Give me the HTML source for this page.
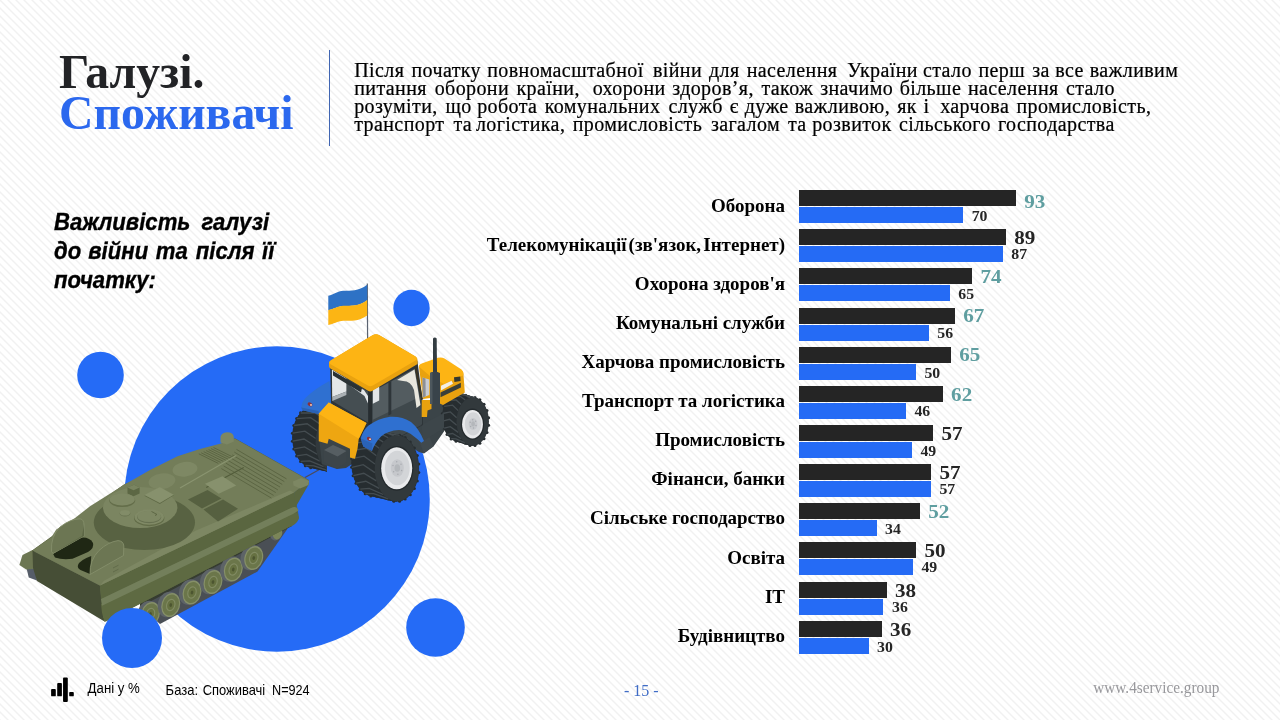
<!DOCTYPE html>
<html lang="uk">
<head>
<meta charset="utf-8">
<title>Галузі. Споживачі</title>
<style>
*{margin:0;padding:0;box-sizing:border-box}
html,body{width:1280px;height:720px;overflow:hidden;background:#fff}
body{position:relative;font-family:"Liberation Serif",serif;color:#000}
#bg,#chart,#art,#txt{position:absolute;left:0;top:0;width:1280px;height:720px}
#bg{background:#fff linear-gradient(45deg,#f1f1f1 0,#f1f1f1 3.5%,#fff 9.5%,#fff 40.5%,#f1f1f1 46.5%,#f1f1f1 53.5%,#fff 59.5%,#fff 90.5%,#f1f1f1 96.5%,#f1f1f1 100%) 0 0/8px 8px repeat}
.abs{position:absolute;white-space:nowrap}
#t1{left:59px;top:44.5px;font-size:47.7px;font-weight:bold;line-height:54px;color:#222326}
#t2{left:59px;top:85.5px;font-size:47.7px;font-weight:bold;line-height:54px;color:#2b68ee}
#vline{position:absolute;left:329px;top:50px;width:1px;height:96px;background:#4065b2}
</style>
</head>
<body>
<div id="bg"></div>
<!--ART-->
<svg id="art" width="1280" height="720" viewBox="0 0 1280 720">
<g fill="#256bf6"><circle cx="277" cy="499" r="152.75"/><circle cx="100.5" cy="375" r="23.3"/><circle cx="411.5" cy="308" r="18.2"/><circle cx="435.5" cy="627.5" r="29.3"/></g>
<g id="tank"><path d="M140 606 L160 624 L257.5 571.5 L287 529.5 L292 512 L150 582 Z" fill="#4a4f55"/>
<path d="M140 607 L292 526 L292 512 L140 590 Z" fill="#363c31"/>
<g transform="translate(150.5,614) rotate(17)"><ellipse cx="-2.6" cy="0.3" rx="10.4" ry="13" fill="#5d6367"/><ellipse rx="9.2" ry="12.2" fill="#858f68"/><ellipse rx="8" ry="10.8" fill="#6b764a"/><ellipse rx="4.6" ry="6.4" fill="#818b63"/><ellipse rx="3.5" ry="5.1" fill="#667142"/><ellipse rx="1.3" ry="1.9" fill="#4c5530"/></g>
<g transform="translate(170.75,605) rotate(17)"><ellipse cx="-2.6" cy="0.3" rx="10.4" ry="13" fill="#5d6367"/><ellipse rx="9.2" ry="12.2" fill="#858f68"/><ellipse rx="8" ry="10.8" fill="#6b764a"/><ellipse rx="4.6" ry="6.4" fill="#818b63"/><ellipse rx="3.5" ry="5.1" fill="#667142"/><ellipse rx="1.3" ry="1.9" fill="#4c5530"/></g>
<g transform="translate(192,592.5) rotate(17)"><ellipse cx="-2.6" cy="0.3" rx="10.4" ry="13" fill="#5d6367"/><ellipse rx="9.2" ry="12.2" fill="#858f68"/><ellipse rx="8" ry="10.8" fill="#6b764a"/><ellipse rx="4.6" ry="6.4" fill="#818b63"/><ellipse rx="3.5" ry="5.1" fill="#667142"/><ellipse rx="1.3" ry="1.9" fill="#4c5530"/></g>
<g transform="translate(213,582) rotate(17)"><ellipse cx="-2.6" cy="0.3" rx="10.4" ry="13" fill="#5d6367"/><ellipse rx="9.2" ry="12.2" fill="#858f68"/><ellipse rx="8" ry="10.8" fill="#6b764a"/><ellipse rx="4.6" ry="6.4" fill="#818b63"/><ellipse rx="3.5" ry="5.1" fill="#667142"/><ellipse rx="1.3" ry="1.9" fill="#4c5530"/></g>
<g transform="translate(233.25,569.5) rotate(17)"><ellipse cx="-2.6" cy="0.3" rx="10.4" ry="13" fill="#5d6367"/><ellipse rx="9.2" ry="12.2" fill="#858f68"/><ellipse rx="8" ry="10.8" fill="#6b764a"/><ellipse rx="4.6" ry="6.4" fill="#818b63"/><ellipse rx="3.5" ry="5.1" fill="#667142"/><ellipse rx="1.3" ry="1.9" fill="#4c5530"/></g>
<g transform="translate(253.75,558) rotate(17)"><ellipse cx="-2.6" cy="0.3" rx="10.4" ry="13" fill="#5d6367"/><ellipse rx="9.2" ry="12.2" fill="#858f68"/><ellipse rx="8" ry="10.8" fill="#6b764a"/><ellipse rx="4.6" ry="6.4" fill="#818b63"/><ellipse rx="3.5" ry="5.1" fill="#667142"/><ellipse rx="1.3" ry="1.9" fill="#4c5530"/></g>
<g transform="translate(277.5,533.5) rotate(17)"><ellipse cx="-1.5" rx="6" ry="7.5" fill="#5d6367"/><ellipse rx="4.6" ry="6" fill="#7b8558"/></g>
<path d="M26.25 567 L36.25 569 L37 580.5 L28.75 577.5 Z" fill="#565d69"/>
<path d="M19.4 565 L22.5 555 L32.5 550 L35 551.5 L35 568.75 L26.25 569.6 Z" fill="#6c7652"/>
<path d="M32.5 550.6 L100 585.6 L294 492.48 L309 480.5 L235 438.75 L123.75 485 Z M100 585.6 L294 492.48 L298 514.5600000000001 L288 527 L110 619 L102 610.64 Z" fill="#5a6640" stroke="#5a6640" stroke-width="0.8"/>
<path d="M32.5 550.6 L100 585.6 L101.5 600 L103 612 L104.5 621.5 L37 581 L33 568 Z" fill="#464e36"/>
<path d="M100 585.6 L294 492.48 L296 505.52000000000004 L101 599.12 Z" fill="#5a6640"/>
<path d="M101 604.12 L293 511.96000000000004 Q300 512.5600000000001 298.8 519.04 Q296 525.48 288 527.5 L116 616 Q108 621 104.5 622 L102 612.64 Z" fill="#5e6a42"/>
<path d="M101 599.12 L291 507.92 Q297 505.04 298.5 510.56000000000006 L293 513.96 L102 605.64 Z" fill="#737f5b"/>
<path d="M294 492.48 L309 480.5 L309 484 L296.5 505.5 L295.5 505.76 Z" fill="#5a6640"/>
<path d="M32.5 550.6 L51.25 537.5 L56.25 529.4 L75 518.1 L90 506.25 L123.75 485 L150 470 L177.5 456.25 L200 449 L220 443.75 L235 438.75 L309 480.5 L294 492.48 L100 585.6 Z" fill="#737d59"/>
<path d="M100 585.6 L294 492.48 L290 490.40000000000003 L196 530.52 L150 555.6 L104 580.6800000000001 Z" fill="#7d8763"/>
<path d="M220.5 437 Q221 433 227 432.3 Q233.5 432.5 233.8 437 L233.8 441.5 L227 444.5 L220.5 442.5 Z" fill="#7d8763"/>
<path d="M293 481.5 L301 478 L309 481 L308.5 485 L300 488.5 L293.5 485.5 Z" fill="#7d8763"/>
<ellipse cx="185" cy="469.25" rx="12.5" ry="7.3" fill="#7e8864" transform="rotate(-8 185 469.25)"/>
<ellipse cx="162" cy="481.25" rx="13.5" ry="7.8" fill="#7c8662" transform="rotate(-8 162 481.25)"/>
<path d="M236.5 449.4 l50 29.5 M234.3 452.1 l50 29.5 M232.2 454.9 l50 29.5 M230.1 457.6 l50 29.5 M227.9 460.4 l50 29.5 M225.8 463.1 l50 29.5 M223.6 465.9 l50 29.5 M221.4 468.6 l50 29.5 M213.5 447.5 l19.5 9.6 M211.1 448.6 l19.5 9.6 M208.6 449.6 l19.5 9.6 M206.2 450.6 l19.5 9.6 M203.7 451.7 l19.5 9.6 M201.2 452.8 l19.5 9.6 M198.8 453.8 l19.5 9.6" stroke="#58623f" stroke-width="1" fill="none" opacity="0.85"/>
<path d="M180 488 L236.25 455.6" stroke="#8a9470" stroke-width="1.1" fill="none"/>
<path d="M206.25 487.5 L243.75 467.5" stroke="#525c3a" stroke-width="1.1" fill="none"/>
<path d="M205 483.75 L222.5 476.25 L236.25 485.5 L218.75 493.75 Z" fill="#87916d"/>
<path d="M188 499.5 L207.5 490 L221.5 498.5 L202 508.5 Z" fill="#566040"/>
<path d="M203.5 509.5 L223 499.5 L238 508.75 L218 521.5 Z" fill="#566040"/>
<ellipse cx="144.4" cy="522.5" rx="50.6" ry="27.5" fill="#586242"/>
<ellipse cx="140.2" cy="507.5" rx="37.2" ry="20.5" fill="#7b8561"/>
<path d="M127.5 487.5 L134 484.8 L139.6 487.5 L139.6 493.5 L133.5 496.3 L127.5 493.5 Z" fill="#5c6744"/>
<path d="M127.5 487.5 L134 484.8 L139.6 487.5 L133.5 490.3 Z" fill="#7a8460"/>
<path d="M144.3 495.8 L159.8 487.6 L173.8 495.3 L159.8 503.9 Z" fill="#5f6946"/><path d="M144.3 495.1 L159.8 487 L173.8 494.7 L159.8 503 Z" fill="#87916d"/>
<ellipse cx="122.2" cy="500.6" rx="13" ry="6.5" fill="#646e4a"/><ellipse cx="122.2" cy="499.6" rx="12.6" ry="6" fill="#7f8965"/>
<ellipse cx="125" cy="513.4" rx="5.3" ry="3" fill="#687250"/><ellipse cx="125" cy="512.8" rx="5.1" ry="2.8" fill="#828c68"/>
<ellipse cx="149.2" cy="518" rx="15.2" ry="8.2" fill="#626c48"/><ellipse cx="149.2" cy="517" rx="14.8" ry="7.7" fill="#808a66"/><ellipse cx="149.2" cy="517.2" rx="12" ry="6" fill="#667050"/><ellipse cx="149.2" cy="516.4" rx="11.7" ry="5.7" fill="#7e8864"/><path d="M151.5 511.5 L157 514.5 M155 515.5 L157 514.5" stroke="#5a6442" stroke-width="0.9" fill="none"/>
<path d="M53 553.75 L81.25 537.5 Q90 537 93 543 Q94.5 548 88 552 L72.5 558.75 Q62 560 55 557.5 Z" fill="#1f2714"/>
<path d="M78 565 Q80 560 91.25 556 L90 574 L80.5 570 Q77 568 78 565 Z" fill="#1f2714"/>
<path d="M51.5 551.5 Q50.5 536 60 527 Q70 519 80 518.8 Q84 519.5 84 525 L84 536 L53 553.5 Z" fill="#6c7653" stroke="#858f6b" stroke-width="0.9" stroke-linejoin="round"/>
<path d="M84 525 L84 536 L53 553.5 L60 549 L82 536 Z" fill="#5d6746"/>
<path d="M90 574.5 Q89.5 560 99 550.5 Q108 542 118 540.6 Q123.5 541 123.8 546 L123.5 555.5 Z" fill="#6c7653" stroke="#858f6b" stroke-width="0.9" stroke-linejoin="round"/>
<path d="M113 568 l5.5 -2.8 M113 572 l5.5 -2.8" stroke="#5d6746" stroke-width="0.8" fill="none"/></g>
<g id="tractor"><path d="M305 477.5 L323.5 467.3" stroke="#4b4b5c" stroke-width="1.3" fill="none"/>
<path d="M367.3 283.5 L367.6 340" stroke="#5a6270" stroke-width="1.2" fill="none"/>
<path d="M328.3 295.8 C334 294.5 337 291.2 343.5 290.8 C351 290.4 358 291.5 367.2 284.7 L367.2 300.2 C358 306.8 351 305.6 343.5 306 C337 306.4 334 309.2 328.3 310.3 Z" fill="#2e72c5"/>
<path d="M328.3 310 C334 308.9 337 306.1 343.5 305.7 C351 305.3 358 306.5 367.2 299.9 L367.2 315.4 C358 321.8 351 320.4 343.5 320.8 C337 321.2 334 324 328.3 325 Z" fill="#fcb514"/>
<clipPath id="cfw"><path d="M285 400 L327 400 L327 472 L285 472 Z"/></clipPath><g clip-path="url(#cfw)">
<path d="M334.5 437.2 L334.3 441.2 L333.8 445.1 L332.9 448.9 L331.7 452.4 L330.2 455.8 L328.3 458.8 L326.3 461.4 L324.0 463.6 L321.5 465.4 L318.9 466.7 L316.2 467.4 L313.5 467.7 L310.8 467.4 L308.1 466.7 L305.5 465.4 L303.0 463.6 L300.7 461.4 L298.7 458.8 L296.8 455.8 L295.3 452.4 L294.1 448.9 L293.2 445.1 L292.7 441.2 L292.5 437.2 L292.7 433.2 L293.2 429.3 L294.1 425.5 L295.3 421.9 L296.8 418.6 L298.7 415.6 L300.7 413.0 L303.0 410.8 L305.5 409.0 L308.1 407.7 L310.8 407.0 L313.5 406.7 L316.2 407.0 L318.9 407.7 L321.5 409.0 L324.0 410.8 L326.3 413.0 L328.3 415.6 L330.2 418.6 L331.7 421.9 L332.9 425.5 L333.8 429.3 L334.3 433.2 Z" fill="#272d30"/>
<path d="M357.5 442.5 L357.3 446.5 L334.3 441.2 L334.5 437.2 Z M357.3 446.5 L356.8 450.4 L333.8 445.1 L334.3 441.2 Z M356.8 450.4 L355.9 454.2 L332.9 448.9 L333.8 445.1 Z M355.9 454.2 L354.7 457.8 L331.7 452.4 L332.9 448.9 Z M354.7 457.8 L353.2 461.1 L330.2 455.8 L331.7 452.4 Z M353.2 461.1 L351.3 464.1 L328.3 458.8 L330.2 455.8 Z M351.3 464.1 L349.3 466.7 L326.3 461.4 L328.3 458.8 Z M349.3 466.7 L347.0 468.9 L324.0 463.6 L326.3 461.4 Z M347.0 468.9 L344.5 470.7 L321.5 465.4 L324.0 463.6 Z M344.5 470.7 L341.9 472.0 L318.9 466.7 L321.5 465.4 Z M341.9 472.0 L339.2 472.7 L316.2 467.4 L318.9 466.7 Z M339.2 472.7 L336.5 473.0 L313.5 467.7 L316.2 467.4 Z M336.5 473.0 L333.8 472.7 L310.8 467.4 L313.5 467.7 Z M333.8 472.7 L331.1 472.0 L308.1 466.7 L310.8 467.4 Z M331.1 472.0 L328.5 470.7 L305.5 465.4 L308.1 466.7 Z M328.5 470.7 L326.0 468.9 L303.0 463.6 L305.5 465.4 Z M326.0 468.9 L323.7 466.7 L300.7 461.4 L303.0 463.6 Z M323.7 466.7 L321.7 464.1 L298.7 458.8 L300.7 461.4 Z M321.7 464.1 L319.8 461.1 L296.8 455.8 L298.7 458.8 Z M319.8 461.1 L318.3 457.8 L295.3 452.4 L296.8 455.8 Z M318.3 457.8 L317.1 454.2 L294.1 448.9 L295.3 452.4 Z M317.1 454.2 L316.2 450.4 L293.2 445.1 L294.1 448.9 Z M316.2 450.4 L315.7 446.5 L292.7 441.2 L293.2 445.1 Z M315.7 446.5 L315.5 442.5 L292.5 437.2 L292.7 441.2 Z M315.5 442.5 L315.7 438.5 L292.7 433.2 L292.5 437.2 Z M315.7 438.5 L316.2 434.6 L293.2 429.3 L292.7 433.2 Z M316.2 434.6 L317.1 430.8 L294.1 425.5 L293.2 429.3 Z M317.1 430.8 L318.3 427.2 L295.3 421.9 L294.1 425.5 Z M318.3 427.2 L319.8 423.9 L296.8 418.6 L295.3 421.9 Z M319.8 423.9 L321.7 420.9 L298.7 415.6 L296.8 418.6 Z M321.7 420.9 L323.7 418.3 L300.7 413.0 L298.7 415.6 Z M323.7 418.3 L326.0 416.1 L303.0 410.8 L300.7 413.0 Z M326.0 416.1 L328.5 414.3 L305.5 409.0 L303.0 410.8 Z M328.5 414.3 L331.1 413.0 L308.1 407.7 L305.5 409.0 Z M331.1 413.0 L333.8 412.3 L310.8 407.0 L308.1 407.7 Z M333.8 412.3 L336.5 412.0 L313.5 406.7 L310.8 407.0 Z M336.5 412.0 L339.2 412.3 L316.2 407.0 L313.5 406.7 Z M339.2 412.3 L341.9 413.0 L318.9 407.7 L316.2 407.0 Z M341.9 413.0 L344.5 414.3 L321.5 409.0 L318.9 407.7 Z M344.5 414.3 L347.0 416.1 L324.0 410.8 L321.5 409.0 Z M347.0 416.1 L349.3 418.3 L326.3 413.0 L324.0 410.8 Z M349.3 418.3 L351.3 420.9 L328.3 415.6 L326.3 413.0 Z M351.3 420.9 L353.2 423.9 L330.2 418.6 L328.3 415.6 Z M353.2 423.9 L354.7 427.2 L331.7 421.9 L330.2 418.6 Z M354.7 427.2 L355.9 430.8 L332.9 425.5 L331.7 421.9 Z M355.9 430.8 L356.8 434.6 L333.8 429.3 L332.9 425.5 Z M356.8 434.6 L357.3 438.5 L334.3 433.2 L333.8 429.3 Z M357.3 438.5 L357.5 442.5 L334.5 437.2 L334.3 433.2 Z" fill="#272d30" stroke="#272d30" stroke-width="0.6"/>
<g fill="#272d30"><circle cx="357.6" cy="446.5" r="1.5"/><circle cx="334.6" cy="441.2" r="1.5"/><circle cx="356.2" cy="454.3" r="1.5"/><circle cx="333.2" cy="449.0" r="1.5"/><circle cx="353.4" cy="461.2" r="1.5"/><circle cx="330.4" cy="455.9" r="1.5"/><circle cx="349.5" cy="466.9" r="1.5"/><circle cx="326.5" cy="461.6" r="1.5"/><circle cx="344.7" cy="471.0" r="1.5"/><circle cx="321.7" cy="465.7" r="1.5"/><circle cx="339.3" cy="473.0" r="1.5"/><circle cx="316.3" cy="467.7" r="1.5"/><circle cx="333.7" cy="473.0" r="1.5"/><circle cx="310.7" cy="467.7" r="1.5"/><circle cx="328.3" cy="471.0" r="1.5"/><circle cx="305.3" cy="465.7" r="1.5"/><circle cx="323.5" cy="466.9" r="1.5"/><circle cx="300.5" cy="461.6" r="1.5"/><circle cx="319.6" cy="461.2" r="1.5"/><circle cx="296.6" cy="455.9" r="1.5"/><circle cx="316.8" cy="454.3" r="1.5"/><circle cx="293.8" cy="449.0" r="1.5"/><circle cx="315.4" cy="446.5" r="1.5"/><circle cx="292.4" cy="441.2" r="1.5"/><circle cx="315.4" cy="438.5" r="1.5"/><circle cx="292.4" cy="433.2" r="1.5"/><circle cx="316.8" cy="430.7" r="1.5"/><circle cx="293.8" cy="425.4" r="1.5"/><circle cx="319.6" cy="423.8" r="1.5"/><circle cx="296.6" cy="418.5" r="1.5"/><circle cx="323.5" cy="418.1" r="1.5"/><circle cx="300.5" cy="412.8" r="1.5"/><circle cx="328.3" cy="414.0" r="1.5"/><circle cx="305.3" cy="408.7" r="1.5"/><circle cx="333.7" cy="412.0" r="1.5"/><circle cx="310.7" cy="406.7" r="1.5"/><circle cx="339.3" cy="412.0" r="1.5"/><circle cx="316.3" cy="406.7" r="1.5"/><circle cx="344.7" cy="414.0" r="1.5"/><circle cx="321.7" cy="408.7" r="1.5"/><circle cx="349.5" cy="418.1" r="1.5"/><circle cx="326.5" cy="412.8" r="1.5"/><circle cx="353.4" cy="423.8" r="1.5"/><circle cx="330.4" cy="418.5" r="1.5"/><circle cx="356.2" cy="430.7" r="1.5"/><circle cx="333.2" cy="425.4" r="1.5"/><circle cx="357.6" cy="438.5" r="1.5"/><circle cx="334.6" cy="433.2" r="1.5"/></g>
<path d="M328.5 470.7 L314.0 465.8 L305.5 465.4 M323.7 466.7 L309.7 460.8 L300.7 461.4 M319.8 461.1 L306.5 454.3 L296.8 455.8 M317.1 454.2 L304.6 446.9 L294.1 448.9 M315.7 446.5 L304.0 439.0 L292.7 441.2 M315.7 438.5 L304.9 431.1 L292.7 433.2 M317.1 430.8 L307.1 423.8 L294.1 425.5 M319.8 423.9 L310.6 417.7 L296.8 418.6 M323.7 418.3 L315.0 413.0 L300.7 413.0 M328.5 414.3 L320.2 410.2 L305.5 409.0 M333.8 412.3 L325.6 409.4 L310.8 407.0 M339.2 412.3 L331.0 410.6 L316.2 407.0" stroke="#444c50" stroke-width="1.3" fill="none"/>
<ellipse cx="336.5" cy="442.5" rx="21" ry="30.5" fill="#32393c"/>
</g>
<path d="M319 438 L372 425 L432 400 L446 404 L445 430 L433.5 446.5 L424 453.5 L419 452 L400 440 L370 452 L346 468 L337 469 L322 464 Z" fill="#3b4448"/>
<path d="M324 450 L333 445 L346.5 451 L346.5 462 L337 468.8 L323.8 462 Z" fill="#3d4549"/>
<path d="M324 450 L333 445 L346.5 451 L337.5 456.5 Z" fill="#565e62"/>
<path d="M474.5 417.3 L474.4 420.4 L474.0 423.5 L473.3 426.5 L472.4 429.3 L471.2 431.9 L469.8 434.3 L468.2 436.3 L466.5 438.1 L464.6 439.5 L462.6 440.5 L460.6 441.1 L458.5 441.3 L456.4 441.1 L454.4 440.5 L452.4 439.5 L450.5 438.1 L448.8 436.3 L447.2 434.3 L445.8 431.9 L444.6 429.3 L443.7 426.5 L443.0 423.5 L442.6 420.4 L442.5 417.3 L442.6 414.2 L443.0 411.1 L443.7 408.1 L444.6 405.3 L445.8 402.7 L447.2 400.3 L448.8 398.3 L450.5 396.5 L452.4 395.1 L454.4 394.1 L456.4 393.5 L458.5 393.3 L460.6 393.5 L462.6 394.1 L464.6 395.1 L466.5 396.5 L468.2 398.3 L469.8 400.3 L471.2 402.7 L472.4 405.3 L473.3 408.1 L474.0 411.1 L474.4 414.2 Z" fill="#272d30"/>
<path d="M488.5 421.5 L488.4 424.6 L474.4 420.4 L474.5 417.3 Z M488.4 424.6 L488.0 427.7 L474.0 423.5 L474.4 420.4 Z M488.0 427.7 L487.3 430.7 L473.3 426.5 L474.0 423.5 Z M487.3 430.7 L486.4 433.5 L472.4 429.3 L473.3 426.5 Z M486.4 433.5 L485.2 436.1 L471.2 431.9 L472.4 429.3 Z M485.2 436.1 L483.8 438.5 L469.8 434.3 L471.2 431.9 Z M483.8 438.5 L482.2 440.5 L468.2 436.3 L469.8 434.3 Z M482.2 440.5 L480.5 442.3 L466.5 438.1 L468.2 436.3 Z M480.5 442.3 L478.6 443.7 L464.6 439.5 L466.5 438.1 Z M478.6 443.7 L476.6 444.7 L462.6 440.5 L464.6 439.5 Z M476.6 444.7 L474.6 445.3 L460.6 441.1 L462.6 440.5 Z M474.6 445.3 L472.5 445.5 L458.5 441.3 L460.6 441.1 Z M472.5 445.5 L470.4 445.3 L456.4 441.1 L458.5 441.3 Z M470.4 445.3 L468.4 444.7 L454.4 440.5 L456.4 441.1 Z M468.4 444.7 L466.4 443.7 L452.4 439.5 L454.4 440.5 Z M466.4 443.7 L464.5 442.3 L450.5 438.1 L452.4 439.5 Z M464.5 442.3 L462.8 440.5 L448.8 436.3 L450.5 438.1 Z M462.8 440.5 L461.2 438.5 L447.2 434.3 L448.8 436.3 Z M461.2 438.5 L459.8 436.1 L445.8 431.9 L447.2 434.3 Z M459.8 436.1 L458.6 433.5 L444.6 429.3 L445.8 431.9 Z M458.6 433.5 L457.7 430.7 L443.7 426.5 L444.6 429.3 Z M457.7 430.7 L457.0 427.7 L443.0 423.5 L443.7 426.5 Z M457.0 427.7 L456.6 424.6 L442.6 420.4 L443.0 423.5 Z M456.6 424.6 L456.5 421.5 L442.5 417.3 L442.6 420.4 Z M456.5 421.5 L456.6 418.4 L442.6 414.2 L442.5 417.3 Z M456.6 418.4 L457.0 415.3 L443.0 411.1 L442.6 414.2 Z M457.0 415.3 L457.7 412.3 L443.7 408.1 L443.0 411.1 Z M457.7 412.3 L458.6 409.5 L444.6 405.3 L443.7 408.1 Z M458.6 409.5 L459.8 406.9 L445.8 402.7 L444.6 405.3 Z M459.8 406.9 L461.2 404.5 L447.2 400.3 L445.8 402.7 Z M461.2 404.5 L462.8 402.5 L448.8 398.3 L447.2 400.3 Z M462.8 402.5 L464.5 400.7 L450.5 396.5 L448.8 398.3 Z M464.5 400.7 L466.4 399.3 L452.4 395.1 L450.5 396.5 Z M466.4 399.3 L468.4 398.3 L454.4 394.1 L452.4 395.1 Z M468.4 398.3 L470.4 397.7 L456.4 393.5 L454.4 394.1 Z M470.4 397.7 L472.5 397.5 L458.5 393.3 L456.4 393.5 Z M472.5 397.5 L474.6 397.7 L460.6 393.5 L458.5 393.3 Z M474.6 397.7 L476.6 398.3 L462.6 394.1 L460.6 393.5 Z M476.6 398.3 L478.6 399.3 L464.6 395.1 L462.6 394.1 Z M478.6 399.3 L480.5 400.7 L466.5 396.5 L464.6 395.1 Z M480.5 400.7 L482.2 402.5 L468.2 398.3 L466.5 396.5 Z M482.2 402.5 L483.8 404.5 L469.8 400.3 L468.2 398.3 Z M483.8 404.5 L485.2 406.9 L471.2 402.7 L469.8 400.3 Z M485.2 406.9 L486.4 409.5 L472.4 405.3 L471.2 402.7 Z M486.4 409.5 L487.3 412.3 L473.3 408.1 L472.4 405.3 Z M487.3 412.3 L488.0 415.3 L474.0 411.1 L473.3 408.1 Z M488.0 415.3 L488.4 418.4 L474.4 414.2 L474.0 411.1 Z M488.4 418.4 L488.5 421.5 L474.5 417.3 L474.4 414.2 Z" fill="#272d30" stroke="#272d30" stroke-width="0.6"/>
<g fill="#272d30"><circle cx="488.6" cy="425.3" r="1.5"/><circle cx="474.6" cy="421.1" r="1.5"/><circle cx="487.0" cy="432.5" r="1.5"/><circle cx="473.0" cy="428.3" r="1.5"/><circle cx="484.0" cy="438.7" r="1.5"/><circle cx="470.0" cy="434.5" r="1.5"/><circle cx="479.9" cy="443.2" r="1.5"/><circle cx="465.9" cy="439.0" r="1.5"/><circle cx="475.0" cy="445.5" r="1.5"/><circle cx="461.0" cy="441.3" r="1.5"/><circle cx="470.0" cy="445.5" r="1.5"/><circle cx="456.0" cy="441.3" r="1.5"/><circle cx="465.1" cy="443.2" r="1.5"/><circle cx="451.1" cy="439.0" r="1.5"/><circle cx="461.0" cy="438.7" r="1.5"/><circle cx="447.0" cy="434.5" r="1.5"/><circle cx="458.0" cy="432.5" r="1.5"/><circle cx="444.0" cy="428.3" r="1.5"/><circle cx="456.4" cy="425.3" r="1.5"/><circle cx="442.4" cy="421.1" r="1.5"/><circle cx="456.4" cy="417.7" r="1.5"/><circle cx="442.4" cy="413.5" r="1.5"/><circle cx="458.0" cy="410.5" r="1.5"/><circle cx="444.0" cy="406.3" r="1.5"/><circle cx="461.0" cy="404.3" r="1.5"/><circle cx="447.0" cy="400.1" r="1.5"/><circle cx="465.1" cy="399.8" r="1.5"/><circle cx="451.1" cy="395.6" r="1.5"/><circle cx="470.0" cy="397.5" r="1.5"/><circle cx="456.0" cy="393.3" r="1.5"/><circle cx="475.0" cy="397.5" r="1.5"/><circle cx="461.0" cy="393.3" r="1.5"/><circle cx="479.9" cy="399.8" r="1.5"/><circle cx="465.9" cy="395.6" r="1.5"/><circle cx="484.0" cy="404.3" r="1.5"/><circle cx="470.0" cy="400.1" r="1.5"/><circle cx="487.0" cy="410.5" r="1.5"/><circle cx="473.0" cy="406.3" r="1.5"/><circle cx="488.6" cy="417.7" r="1.5"/><circle cx="474.6" cy="413.5" r="1.5"/></g>
<path d="M465.2 442.9 L456.1 438.8 L451.2 438.7 M461.2 438.5 L452.5 433.5 L447.2 434.3 M458.2 432.4 L450.3 426.7 L444.2 428.2 M456.7 425.3 L449.5 419.3 L442.7 421.1 M456.7 417.7 L450.3 411.9 L442.7 413.5 M458.2 410.6 L452.6 405.2 L444.2 406.4 M461.2 404.5 L456.1 399.9 L447.2 400.3 M465.2 400.1 L460.6 396.6 L451.2 395.9 M470.0 397.8 L465.5 395.4 L456.0 393.6 M475.0 397.8 L470.5 396.6 L461.0 393.6" stroke="#444c50" stroke-width="1.3" fill="none"/>
<ellipse cx="472.5" cy="421.5" rx="16" ry="24" fill="#32393c"/>
<ellipse cx="472.5" cy="424.2" rx="11.6" ry="15.6" fill="#23292c"/>
<ellipse cx="472.5" cy="424.2" rx="10.4" ry="14.2" fill="#e9eaec"/>
<ellipse cx="473.1" cy="423.9" rx="8.3" ry="11.6" fill="#d3d5d8"/>
<ellipse cx="473.1" cy="423.9" rx="4.4" ry="6.0" fill="#c6c8cc"/>
<ellipse cx="473.1" cy="423.9" rx="1.9" ry="2.6" fill="#b4b7bb"/>
<g fill="#a9acb1"><circle cx="476.0" cy="425.6" r="0.75"/><circle cx="473.5" cy="428.1" r="0.75"/><circle cx="470.6" cy="426.5" r="0.75"/><circle cx="470.2" cy="422.2" r="0.75"/><circle cx="472.7" cy="419.7" r="0.75"/><circle cx="475.6" cy="421.3" r="0.75"/></g>
<path d="M419 441 L429 436 L433.5 446 L424 453 Z" fill="#40494d"/>
<path d="M421.5 425 L444 413 L444 428 L423 441 Z" fill="#3d464a"/>
<path d="M301.25 407.5 Q302 401 306.5 397 Q316 388 329.5 381 L331 403 L318.75 414 L302.5 410.3 Z" fill="#2f70d0"/>
<path d="M301.25 407.5 L318.5 411 L318.75 414 L302.5 410.3 Z" fill="#2a62b6"/>
<ellipse cx="310" cy="404.4" rx="2.5" ry="1.8" fill="#8c2f3a" transform="rotate(25 310 404.4)"/><ellipse cx="311" cy="404.9" rx="1.1" ry="0.9" fill="#f1c9b0"/>
<path d="M330.2 366 L376 340 L417.4 361 L422.5 400 L423 425 L372 452 L331 403 Z" fill="#2e3539"/>
<path d="M331.8 369.5 L368 391.5 L368 422.5 L332.3 401 Z" fill="#454e52"/>
<path d="M331.9 369.6 L346.4 378.6 L346.4 391.5 L332.2 397 Z" fill="#e3e6e8"/>
<path d="M332.2 397 L346.4 391.5 L346.4 395 L332.3 401 Z" fill="#aab0b4"/>
<path d="M350 383 L364 390 L368 396 L368 403.5 L364.5 396 L350 385.5 Z" fill="#e3e6e8"/>
<path d="M333 371 L362 388 L361 392.5 L333 375.5 Z" fill="#2a3134"/>
<path d="M372.3 391.5 L415 368.5 L421.5 408 L421.5 424 L372.3 450 Z" fill="#535c60"/>
<path d="M372.3 420 L421.5 396 L421.5 425 L372.3 451 Z" fill="#3f484c"/>
<path d="M372.8 389.8 L379.2 386.5 L379.2 400.5 L372.8 403.8 Z" fill="#e3e6e8"/>
<path d="M397 380 L414.5 369.5 L420.5 405 L416.5 408 L414 390 Q411 381 403 381 Z" fill="#e9e7de"/>
<path d="M388.4 382.5 L391.3 381 L391.3 414 L388.4 415.5 Z" fill="#2e3539"/>
<path d="M368.6 391 L372.2 391 L372.2 451 L368.6 449 Z" fill="#272d30"/>
<path d="M414.6 367.5 L416.4 367 L423 399 L421.3 400 Z" fill="#3a3423"/>
<path d="M395.7 463.0 L395.5 467.3 L395.0 471.5 L394.0 475.6 L392.8 479.5 L391.2 483.1 L389.3 486.3 L387.1 489.2 L384.7 491.6 L382.1 493.5 L379.4 494.9 L376.6 495.7 L373.7 496.0 L370.8 495.7 L368.0 494.9 L365.3 493.5 L362.7 491.6 L360.3 489.2 L358.1 486.3 L356.2 483.1 L354.6 479.5 L353.4 475.6 L352.4 471.5 L351.9 467.3 L351.7 463.0 L351.9 458.7 L352.4 454.5 L353.4 450.4 L354.6 446.5 L356.2 442.9 L358.1 439.7 L360.3 436.8 L362.7 434.4 L365.3 432.5 L368.0 431.1 L370.8 430.3 L373.7 430.0 L376.6 430.3 L379.4 431.1 L382.1 432.5 L384.7 434.4 L387.1 436.8 L389.3 439.7 L391.2 442.9 L392.8 446.5 L394.0 450.4 L395.0 454.5 L395.5 458.7 Z" fill="#272d30"/>
<path d="M418.7 468.3 L418.5 472.6 L395.5 467.3 L395.7 463.0 Z M418.5 472.6 L418.0 476.8 L395.0 471.5 L395.5 467.3 Z M418.0 476.8 L417.0 480.9 L394.0 475.6 L395.0 471.5 Z M417.0 480.9 L415.8 484.8 L392.8 479.5 L394.0 475.6 Z M415.8 484.8 L414.2 488.4 L391.2 483.1 L392.8 479.5 Z M414.2 488.4 L412.3 491.6 L389.3 486.3 L391.2 483.1 Z M412.3 491.6 L410.1 494.5 L387.1 489.2 L389.3 486.3 Z M410.1 494.5 L407.7 496.9 L384.7 491.6 L387.1 489.2 Z M407.7 496.9 L405.1 498.8 L382.1 493.5 L384.7 491.6 Z M405.1 498.8 L402.4 500.2 L379.4 494.9 L382.1 493.5 Z M402.4 500.2 L399.6 501.0 L376.6 495.7 L379.4 494.9 Z M399.6 501.0 L396.7 501.3 L373.7 496.0 L376.6 495.7 Z M396.7 501.3 L393.8 501.0 L370.8 495.7 L373.7 496.0 Z M393.8 501.0 L391.0 500.2 L368.0 494.9 L370.8 495.7 Z M391.0 500.2 L388.3 498.8 L365.3 493.5 L368.0 494.9 Z M388.3 498.8 L385.7 496.9 L362.7 491.6 L365.3 493.5 Z M385.7 496.9 L383.3 494.5 L360.3 489.2 L362.7 491.6 Z M383.3 494.5 L381.1 491.6 L358.1 486.3 L360.3 489.2 Z M381.1 491.6 L379.2 488.4 L356.2 483.1 L358.1 486.3 Z M379.2 488.4 L377.6 484.8 L354.6 479.5 L356.2 483.1 Z M377.6 484.8 L376.4 480.9 L353.4 475.6 L354.6 479.5 Z M376.4 480.9 L375.4 476.8 L352.4 471.5 L353.4 475.6 Z M375.4 476.8 L374.9 472.6 L351.9 467.3 L352.4 471.5 Z M374.9 472.6 L374.7 468.3 L351.7 463.0 L351.9 467.3 Z M374.7 468.3 L374.9 464.0 L351.9 458.7 L351.7 463.0 Z M374.9 464.0 L375.4 459.8 L352.4 454.5 L351.9 458.7 Z M375.4 459.8 L376.4 455.7 L353.4 450.4 L352.4 454.5 Z M376.4 455.7 L377.6 451.8 L354.6 446.5 L353.4 450.4 Z M377.6 451.8 L379.2 448.2 L356.2 442.9 L354.6 446.5 Z M379.2 448.2 L381.1 445.0 L358.1 439.7 L356.2 442.9 Z M381.1 445.0 L383.3 442.1 L360.3 436.8 L358.1 439.7 Z M383.3 442.1 L385.7 439.7 L362.7 434.4 L360.3 436.8 Z M385.7 439.7 L388.3 437.8 L365.3 432.5 L362.7 434.4 Z M388.3 437.8 L391.0 436.4 L368.0 431.1 L365.3 432.5 Z M391.0 436.4 L393.8 435.6 L370.8 430.3 L368.0 431.1 Z M393.8 435.6 L396.7 435.3 L373.7 430.0 L370.8 430.3 Z M396.7 435.3 L399.6 435.6 L376.6 430.3 L373.7 430.0 Z M399.6 435.6 L402.4 436.4 L379.4 431.1 L376.6 430.3 Z M402.4 436.4 L405.1 437.8 L382.1 432.5 L379.4 431.1 Z M405.1 437.8 L407.7 439.7 L384.7 434.4 L382.1 432.5 Z M407.7 439.7 L410.1 442.1 L387.1 436.8 L384.7 434.4 Z M410.1 442.1 L412.3 445.0 L389.3 439.7 L387.1 436.8 Z M412.3 445.0 L414.2 448.2 L391.2 442.9 L389.3 439.7 Z M414.2 448.2 L415.8 451.8 L392.8 446.5 L391.2 442.9 Z M415.8 451.8 L417.0 455.7 L394.0 450.4 L392.8 446.5 Z M417.0 455.7 L418.0 459.8 L395.0 454.5 L394.0 450.4 Z M418.0 459.8 L418.5 464.0 L395.5 458.7 L395.0 454.5 Z M418.5 464.0 L418.7 468.3 L395.7 463.0 L395.5 458.7 Z" fill="#272d30" stroke="#272d30" stroke-width="0.6"/>
<g fill="#272d30"><circle cx="418.8" cy="472.6" r="1.5"/><circle cx="395.8" cy="467.3" r="1.5"/><circle cx="417.3" cy="481.0" r="1.5"/><circle cx="394.3" cy="475.7" r="1.5"/><circle cx="414.4" cy="488.6" r="1.5"/><circle cx="391.4" cy="483.3" r="1.5"/><circle cx="410.3" cy="494.7" r="1.5"/><circle cx="387.3" cy="489.4" r="1.5"/><circle cx="405.2" cy="499.1" r="1.5"/><circle cx="382.2" cy="493.8" r="1.5"/><circle cx="399.6" cy="501.3" r="1.5"/><circle cx="376.6" cy="496.0" r="1.5"/><circle cx="393.8" cy="501.3" r="1.5"/><circle cx="370.8" cy="496.0" r="1.5"/><circle cx="388.2" cy="499.1" r="1.5"/><circle cx="365.2" cy="493.8" r="1.5"/><circle cx="383.1" cy="494.7" r="1.5"/><circle cx="360.1" cy="489.4" r="1.5"/><circle cx="379.0" cy="488.6" r="1.5"/><circle cx="356.0" cy="483.3" r="1.5"/><circle cx="376.1" cy="481.0" r="1.5"/><circle cx="353.1" cy="475.7" r="1.5"/><circle cx="374.6" cy="472.6" r="1.5"/><circle cx="351.6" cy="467.3" r="1.5"/><circle cx="374.6" cy="464.0" r="1.5"/><circle cx="351.6" cy="458.7" r="1.5"/><circle cx="376.1" cy="455.6" r="1.5"/><circle cx="353.1" cy="450.3" r="1.5"/><circle cx="379.0" cy="448.0" r="1.5"/><circle cx="356.0" cy="442.7" r="1.5"/><circle cx="383.1" cy="441.9" r="1.5"/><circle cx="360.1" cy="436.6" r="1.5"/><circle cx="388.2" cy="437.5" r="1.5"/><circle cx="365.2" cy="432.2" r="1.5"/><circle cx="393.8" cy="435.3" r="1.5"/><circle cx="370.8" cy="430.0" r="1.5"/><circle cx="399.6" cy="435.3" r="1.5"/><circle cx="376.6" cy="430.0" r="1.5"/><circle cx="405.2" cy="437.5" r="1.5"/><circle cx="382.2" cy="432.2" r="1.5"/><circle cx="410.3" cy="441.9" r="1.5"/><circle cx="387.3" cy="436.6" r="1.5"/><circle cx="414.4" cy="448.0" r="1.5"/><circle cx="391.4" cy="442.7" r="1.5"/><circle cx="417.3" cy="455.6" r="1.5"/><circle cx="394.3" cy="450.3" r="1.5"/><circle cx="418.8" cy="464.0" r="1.5"/><circle cx="395.8" cy="458.7" r="1.5"/></g>
<path d="M388.3 498.8 L373.7 493.7 L365.3 493.5 M383.3 494.5 L369.2 488.3 L360.3 489.2 M379.2 488.4 L365.8 481.3 L356.2 483.1 M376.4 480.9 L363.8 473.3 L353.4 475.6 M374.9 472.6 L363.2 464.7 L351.9 467.3 M374.9 464.0 L364.1 456.2 L351.9 458.7 M376.4 455.7 L366.5 448.3 L353.4 450.4 M379.2 448.2 L370.1 441.6 L356.2 442.9 M383.3 442.1 L374.8 436.6 L360.3 436.8 M388.3 437.8 L380.1 433.5 L365.3 432.5 M393.8 435.6 L385.8 432.7 L370.8 430.3 M399.6 435.6 L391.5 434.0 L376.6 430.3" stroke="#444c50" stroke-width="1.3" fill="none"/>
<ellipse cx="396.7" cy="468.3" rx="22" ry="33" fill="#32393c"/>
<ellipse cx="396.7" cy="468.3" rx="16.7" ry="22.4" fill="#23292c"/>
<ellipse cx="396.7" cy="468.3" rx="15.5" ry="21" fill="#e9eaec"/>
<ellipse cx="397.3" cy="468.0" rx="12.4" ry="17.2" fill="#d3d5d8"/>
<ellipse cx="397.3" cy="468.0" rx="6.5" ry="8.8" fill="#c6c8cc"/>
<ellipse cx="397.3" cy="468.0" rx="2.8" ry="3.8" fill="#b4b7bb"/>
<g fill="#a9acb1"><circle cx="401.6" cy="470.5" r="0.75"/><circle cx="397.9" cy="474.3" r="0.75"/><circle cx="393.6" cy="471.8" r="0.75"/><circle cx="393.0" cy="465.5" r="0.75"/><circle cx="396.7" cy="461.7" r="0.75"/><circle cx="401.0" cy="464.2" r="0.75"/></g>
<path d="M318.75 413.75 L328.75 402.5 L366.5 423 L358.75 438.75 L357.5 448.75 L355 458.75 L350 457.5 L350 448.75 L328.75 438.75 L327.5 443.75 L318.75 441.25 Z" fill="#eea611"/>
<path d="M318.75 413.75 L328.75 402.5 L366.5 423 L358.75 438.75 Z" fill="#fdb414"/>
<path d="M360.8 438.5 Q363 430 368.5 425.5 Q378 418.5 390 416.7 Q402 416 411 422 Q419 428.5 424 441 L421.3 442.8 Q417 438.5 414 436.5 Q407 430.5 399 430 Q388 430.5 381 436.5 Q375 442.5 372 451 L363.3 446.5 Z" fill="#2f70d0"/>
<path d="M360.8 438.5 L372.5 443.5 L372 451 L363.3 446.5 Z" fill="#2a62b6"/>
<ellipse cx="369.2" cy="438.8" rx="2.4" ry="1.8" fill="#8c2f3a" transform="rotate(25 369.2 438.8)"/><ellipse cx="370" cy="439.2" rx="1.1" ry="0.9" fill="#f1c9b0"/>
<path d="M419 367 L441 358 L463.3 372.5 L464.8 392.5 L443 405 L437 402.2 L430 398 L423 399 Z" fill="#e9a20f"/>
<path d="M418.8 366.4 Q419 364.5 423 363 L438 357.8 Q441.5 356.8 444.5 358.5 L461.5 369.5 Q463.6 371 463.4 374 L463.4 375.2 L444 384 L430 376 Z" fill="#fdb414"/>
<path d="M441 385.7 L451.6 380.8 L453 383.7 L441 390.5 Z" fill="#f2eee6"/>
<path d="M440.5 392.5 L460.9 382.8 L460.9 387.6 L440.5 397.3 Z" fill="#3a3f3a"/>
<path d="M454 377.2 L460.3 376.4 L460.6 381 L454.4 382 Z" fill="#35382f"/>
<path d="M421.7 400 L431.5 400 L431.5 409 L427.5 410.5 L427 417 L421.7 417 Z" fill="#e9a20f"/>
<path d="M422.5 377.5 L429.3 379.5 L429.3 395 L422.8 397.5 Z" fill="#c9ccd2"/><path d="M422.5 377.5 L425.5 378.4 L425.7 396.4 L422.8 397.5 Z" fill="#8d9096"/>
<path d="M433 338.5 Q434.8 336.6 436.7 338.5 L437 372 L433 372 Z" fill="#333c41"/>
<path d="M430 373 Q435 370 440 373 L440 404 L430 404 Z" fill="#39434a"/>
<path d="M430 373 Q431.5 372 432.5 372 L432.5 404 L430 404 Z" fill="#4d575d"/>
<path d="M329 363.3 Q329 361.5 331 360.3 L372.5 335.3 Q375.8 333.4 379 335 L415.5 356.5 Q417.8 358 417.6 360.5 L417.6 364 L372.5 390.8 Q370.2 392.2 368 390.8 L330 368.3 Q329 367.5 329 366 Z" fill="#e9a20f"/>
<path d="M329.3 363 Q329 361.5 331 360.3 L372.5 335.3 Q375.8 333.4 379 335 L415.5 356.5 Q418.2 358.3 416 360.2 L372.8 385.6 Q370.2 387 367.8 385.6 L330.5 364.3 Z" fill="#fdb414"/></g>
<circle cx="132" cy="638" r="30" fill="#256bf6"/>
</svg>
<!--/ART-->
<div id="t1" class="abs">Галузі.</div>
<div id="t2" class="abs">Споживачі</div>
<div id="vline"></div>
<!--TXT-->
<svg id="txt" width="1280" height="720" viewBox="0 0 1280 720">
<g font-family="'Liberation Serif', serif" font-size="20" fill="#000" letter-spacing="0.4" stroke="#000" stroke-width="0.22">
<text y="76.75" xml:space="preserve"><tspan x="354.2">Після </tspan><tspan x="411.45">початку </tspan><tspan x="487.2">повномасштабної </tspan><tspan x="652.95">війни </tspan><tspan x="708.95">для </tspan><tspan x="746.7">населення </tspan><tspan x="847.2">України </tspan><tspan x="922.95">стало </tspan><tspan x="978.45">перш </tspan><tspan x="1032.2">за </tspan><tspan x="1055.2">все </tspan><tspan x="1089.7">важливим </tspan></text>
<text y="95" xml:space="preserve"><tspan x="354.2">питання </tspan><tspan x="434.7">оборони </tspan><tspan x="516.45">країни, </tspan><tspan x="592.7">охорони </tspan><tspan x="672.2">здоров’я, </tspan><tspan x="761.45">також </tspan><tspan x="820.2">значимо </tspan><tspan x="899.7">більше </tspan><tspan x="967.95">населення </tspan><tspan x="1065.95">стало </tspan></text>
<text y="112.5" xml:space="preserve"><tspan x="354.2">розуміти, </tspan><tspan x="445.45">що </tspan><tspan x="477.2">робота </tspan><tspan x="544.7">комунальних </tspan><tspan x="668.45">служб </tspan><tspan x="729.7">є </tspan><tspan x="744.7">дуже </tspan><tspan x="794.7">важливою, </tspan><tspan x="897.2">як </tspan><tspan x="923.45">і </tspan><tspan x="940.2">харчова </tspan><tspan x="1016.45">промисловість, </tspan></text>
<text y="130.75" xml:space="preserve"><tspan x="354.2">транспорт </tspan><tspan x="453.45">та </tspan><tspan x="475.95">логістика, </tspan><tspan x="572.7">промисловість </tspan><tspan x="710.95">загалом </tspan><tspan x="787.9000000000001">та </tspan><tspan x="812.2">розвиток </tspan><tspan x="898.95">сільського </tspan><tspan x="997.95">господарства </tspan></text>
</g>
<g font-family="'Liberation Sans', sans-serif" font-size="23.4" font-weight="bold" font-style="italic" fill="#000" stroke="#000" stroke-width="0.35">
<text transform="translate(54.0,230) scale(0.946,1)">Важливість</text>
<text transform="translate(201.5,230) scale(0.946,1)">галузі</text>
<text transform="translate(54.0,258.75) scale(0.946,1)">до</text>
<text transform="translate(88.25,258.75) scale(0.946,1)">війни</text>
<text transform="translate(155.75,258.75) scale(0.946,1)">та</text>
<text transform="translate(195.75,258.75) scale(0.946,1)">після</text>
<text transform="translate(262.0,258.75) scale(0.946,1)">її</text>
<text transform="translate(54.0,287.5) scale(0.946,1)">початку:</text>
</g>
<g font-family="'Liberation Sans', sans-serif" font-size="14" fill="#000">
<text transform="translate(87.6,693.25) scale(0.945,1)">Дані у %</text>
<text transform="translate(165.6,695) scale(0.93,1)">База: </text>
<text transform="translate(202.7,695) scale(0.925,1)">Споживачі </text>
<text transform="translate(272,695) scale(0.905,1)">N=924</text>
</g>
<text x="624" y="695.9" font-family="'Liberation Serif', serif" font-size="16" fill="#3f6cc6">- 15 -</text>
<text transform="translate(1093.3,692.9) scale(0.955,1)" font-family="'Liberation Serif', serif" font-size="16" fill="#98989c">www.4service.group</text>
<g fill="#000"><rect x="51.1" y="689.1" width="4.7" height="7.2" rx="0.9"/><rect x="57.2" y="683" width="4.7" height="13.3" rx="0.9"/><rect x="63.05" y="677.5" width="4.75" height="24.5" rx="0.9"/><rect x="69.2" y="691.9" width="4.6" height="4.4" rx="0.9"/></g>
</svg>
<!--/TXT-->
<!--CHART-->
<svg id="chart" width="1280" height="720" viewBox="0 0 1280 720" font-family="'Liberation Serif', serif" font-weight="bold">
<rect x="799" y="190" width="217" height="16" fill="#252525"/>
<rect x="799" y="207" width="164" height="16" fill="#256bf5"/>
<text x="785" y="211.75" text-anchor="end" font-size="19" fill="#000">Оборона</text>
<text transform="translate(1024.25,207.9) scale(1.11,1)" font-size="19" fill="#5f9ea0">93</text>
<text transform="translate(971.6999999999999,220.70000000000002) scale(1.02,1)" font-size="15.5" fill="#252525">70</text>
<rect x="799" y="229" width="207" height="16" fill="#252525"/>
<rect x="799" y="246" width="204" height="16" fill="#256bf5"/>
<text x="785" y="250.5" text-anchor="end" font-size="19" fill="#000" word-spacing="-2.6">Телекомунікації (зв'язок, Інтернет)</text>
<text transform="translate(1014.25,244.0) scale(1.11,1)" font-size="19" fill="#252525">89</text>
<text transform="translate(1011.3,259.40000000000003) scale(1.02,1)" font-size="15.5" fill="#252525">87</text>
<rect x="799" y="268" width="173" height="16" fill="#252525"/>
<rect x="799" y="285" width="151" height="16" fill="#256bf5"/>
<text x="785" y="289.5" text-anchor="end" font-size="19" fill="#000">Охорона здоров'я</text>
<text transform="translate(980.5,283.15) scale(1.11,1)" font-size="19" fill="#5f9ea0">74</text>
<text transform="translate(958.3,298.55) scale(1.02,1)" font-size="15.5" fill="#252525">65</text>
<rect x="799" y="308" width="156" height="16" fill="#252525"/>
<rect x="799" y="325" width="130" height="16" fill="#256bf5"/>
<text x="785" y="328.5" text-anchor="end" font-size="19" fill="#000">Комунальні служби</text>
<text transform="translate(963.25,322.29999999999995) scale(1.11,1)" font-size="19" fill="#5f9ea0">67</text>
<text transform="translate(937.3,337.55) scale(1.02,1)" font-size="15.5" fill="#252525">56</text>
<rect x="799" y="347" width="152" height="16" fill="#252525"/>
<rect x="799" y="364" width="117" height="16" fill="#256bf5"/>
<text x="785" y="368.0" text-anchor="end" font-size="19" fill="#000">Харчова промисловість</text>
<text transform="translate(959.25,361.29999999999995) scale(1.11,1)" font-size="19" fill="#5f9ea0">65</text>
<text transform="translate(924.4,377.55) scale(1.02,1)" font-size="15.5" fill="#252525">50</text>
<rect x="799" y="386" width="144" height="16" fill="#252525"/>
<rect x="799" y="403" width="107" height="16" fill="#256bf5"/>
<text x="785" y="407.25" text-anchor="end" font-size="19" fill="#000">Транспорт та логістика</text>
<text transform="translate(951.1,401.29999999999995) scale(1.11,1)" font-size="19" fill="#5f9ea0">62</text>
<text transform="translate(914.4,416.40000000000003) scale(1.02,1)" font-size="15.5" fill="#252525">46</text>
<rect x="799" y="425" width="134" height="16" fill="#252525"/>
<rect x="799" y="442" width="113" height="16" fill="#256bf5"/>
<text x="785" y="446.0" text-anchor="end" font-size="19" fill="#000">Промисловість</text>
<text transform="translate(941.4,440.15) scale(1.11,1)" font-size="19" fill="#252525">57</text>
<text transform="translate(920.4,455.55) scale(1.02,1)" font-size="15.5" fill="#252525">49</text>
<rect x="799" y="464" width="132" height="16" fill="#252525"/>
<rect x="799" y="481" width="132" height="16" fill="#256bf5"/>
<text x="785" y="485.0" text-anchor="end" font-size="19" fill="#000">Фінанси, банки</text>
<text transform="translate(939.4,479.15) scale(1.11,1)" font-size="19" fill="#252525">57</text>
<text transform="translate(939.4,494.40000000000003) scale(1.02,1)" font-size="15.5" fill="#252525">57</text>
<rect x="799" y="503" width="121" height="16" fill="#252525"/>
<rect x="799" y="520" width="78" height="16" fill="#256bf5"/>
<text x="785" y="524.25" text-anchor="end" font-size="19" fill="#000">Сільське господарство</text>
<text transform="translate(928.25,518.3) scale(1.11,1)" font-size="19" fill="#5f9ea0">52</text>
<text transform="translate(885.05,533.55) scale(1.02,1)" font-size="15.5" fill="#252525">34</text>
<rect x="799" y="542" width="117" height="16" fill="#252525"/>
<rect x="799" y="559" width="114" height="16" fill="#256bf5"/>
<text x="785" y="564.0" text-anchor="end" font-size="19" fill="#000">Освіта</text>
<text transform="translate(924.5,557.15) scale(1.11,1)" font-size="19" fill="#252525">50</text>
<text transform="translate(921.4,572.4) scale(1.02,1)" font-size="15.5" fill="#252525">49</text>
<rect x="799" y="582" width="88" height="16" fill="#252525"/>
<rect x="799" y="599" width="84" height="16" fill="#256bf5"/>
<text x="785" y="603.0" text-anchor="end" font-size="19" fill="#000">IT</text>
<text transform="translate(894.9,596.5) scale(1.11,1)" font-size="19" fill="#252525">38</text>
<text transform="translate(892.05,611.55) scale(1.02,1)" font-size="15.5" fill="#252525">36</text>
<rect x="799" y="621" width="83" height="16" fill="#252525"/>
<rect x="799" y="638" width="70" height="16" fill="#256bf5"/>
<text x="785" y="641.75" text-anchor="end" font-size="19" fill="#000">Будівництво</text>
<text transform="translate(890.1,636.15) scale(1.11,1)" font-size="19" fill="#252525">36</text>
<text transform="translate(877.05,651.55) scale(1.02,1)" font-size="15.5" fill="#252525">30</text>
</svg>
<!--/CHART-->
</body>
</html>
